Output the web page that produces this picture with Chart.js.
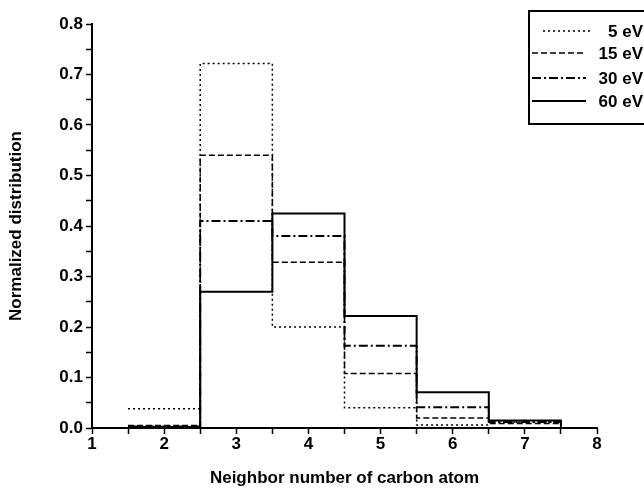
<!DOCTYPE html>
<html>
<head>
<meta charset="utf-8">
<script src="https://cdn.jsdelivr.net/npm/chart.js@4"></script>
<style>
  html, body { margin: 0; padding: 0; background: #fff; }
  #wrap { width: 644px; height: 493px; }
</style>
</head>
<body>
<div id="wrap"><canvas id="histChart" width="644" height="493"></canvas></div>
<script>
// bin centres (neighbor number) and normalized distributions per energy
const bins = [2, 3, 4, 5, 6, 7];
const e5 = [0.038, 0.722, 0.200, 0.040, 0.006, 0.012];
const e15 = [0.005, 0.540, 0.328, 0.108, 0.020, 0.009];
const e30 = [0.003, 0.410, 0.380, 0.163, 0.041, 0.012];
const e60 = [0.002, 0.270, 0.425, 0.222, 0.071, 0.015];
const labels = ['5 eV', '15 eV', '30 eV', '60 eV'];
const xTicks = [1, 2, 3, 4, 5, 6, 7, 8];
const yTicks = [0.0, 0.1, 0.2, 0.3, 0.4, 0.5, 0.6, 0.7, 0.8];

// histogram outline: bin value held from its left edge to its right edge
function steps(vals) {
    const pts = bins.map((b, i) => ({ x: b - 0.5, y: vals[i] }));
    pts.push({ x: bins[bins.length - 1] + 0.5, y: vals[vals.length - 1] });
    pts.push({ x: bins[bins.length - 1] + 0.5, y: 0 });
    return pts;
}

const dashes = [[2, 3], [6, 3], [9, 3, 2, 3], []];
const widths = [1.5, 1.5, 2, 2];
const series = [e5, e15, e30, e60];

const FONT = "'Liberation Sans', Arial, sans-serif";

const legendBox = {
    id: 'legendBox',
    afterDraw(chart) {
        const ctx = chart.ctx;
        ctx.save();
        ctx.strokeStyle = '#000';
        ctx.lineWidth = 2;
        ctx.strokeRect(529, 11, 120, 113);
        const rows = [31, 53, 78, 101];
        chart.data.datasets.forEach((ds, i) => {
            ctx.beginPath();
            ctx.setLineDash(ds.borderDash);
            ctx.lineWidth = ds.borderWidth;
            const x0 = i === 0 ? 543 : 532;
            ctx.moveTo(x0, rows[i]);
            ctx.lineTo(i === 0 ? 590 : 586, rows[i]);
            ctx.stroke();
            ctx.setLineDash([]);
            ctx.fillStyle = '#000';
            ctx.font = 'bold 17px ' + FONT;
            ctx.textAlign = 'right';
            ctx.textBaseline = 'middle';
            ctx.fillText(ds.label, 643, rows[i] + 1);
        });
        ctx.restore();
    }
};

new Chart(document.getElementById('histChart').getContext('2d'), {
    type: 'line',
    data: {
        datasets: series.map((vals, i) => ({
            label: labels[i],
            data: steps(vals),
            stepped: 'before',
            borderColor: '#000',
            borderWidth: widths[i],
            borderDash: dashes[i],
            pointRadius: 0,
            fill: false
        }))
    },
    options: {
        responsive: false,
        animation: false,
        layout: { padding: { top: 24, right: 47, left: 0, bottom: 0 } },
        plugins: {
            legend: { display: false },
            tooltip: { enabled: false }
        },
        scales: {
            x: {
                type: 'linear',
                min: 1,
                max: 8,
                afterBuildTicks(scale) {
                    const t = [];
                    for (let v = 1; v <= 8.001; v += 0.5) t.push({ value: v });
                    scale.ticks = t;
                },
                afterFit(scale) { scale.height = 65; },
                border: { display: true, color: '#000', width: 2 },
                grid: { drawOnChartArea: false, color: '#000', tickLength: 6, tickWidth: 1.5 },
                ticks: {
                    autoSkip: false,
                    maxRotation: 0,
                    padding: 0,
                    color: '#000',
                    font: { family: FONT, size: 17, weight: 'bold' },
                    callback: v => xTicks.includes(v) ? String(v) : ''
                },
                title: {
                    display: true,
                    text: 'Neighbor number of carbon atom',
                    color: '#000',
                    font: { family: FONT, size: 17, weight: 'bold' },
                    padding: { top: 6 }
                }
            },
            y: {
                min: 0,
                max: 0.8,
                afterBuildTicks(scale) {
                    const t = [];
                    for (let k = 0; k <= 16; k++) t.push({ value: k * 0.05 });
                    scale.ticks = t;
                },
                afterFit(scale) { scale.width = 92; },
                border: { display: true, color: '#000', width: 2 },
                grid: { drawOnChartArea: false, color: '#000', tickLength: 6, tickWidth: 1.5 },
                ticks: {
                    autoSkip: false,
                    padding: 3,
                    color: '#000',
                    font: { family: FONT, size: 17, weight: 'bold' },
                    callback: v => {
                        const r = Math.round(v * 100) / 100;
                        return yTicks.some(t => Math.abs(t - r) < 1e-6) ? r.toFixed(1) : '';
                    }
                },
                title: {
                    display: true,
                    text: 'Normalized distribution',
                    color: '#000',
                    font: { family: FONT, size: 17, weight: 'bold' },
                    padding: { top: 6, bottom: 6 }
                }
            }
        }
    },
    plugins: [legendBox]
});
</script>
</body>
</html>
